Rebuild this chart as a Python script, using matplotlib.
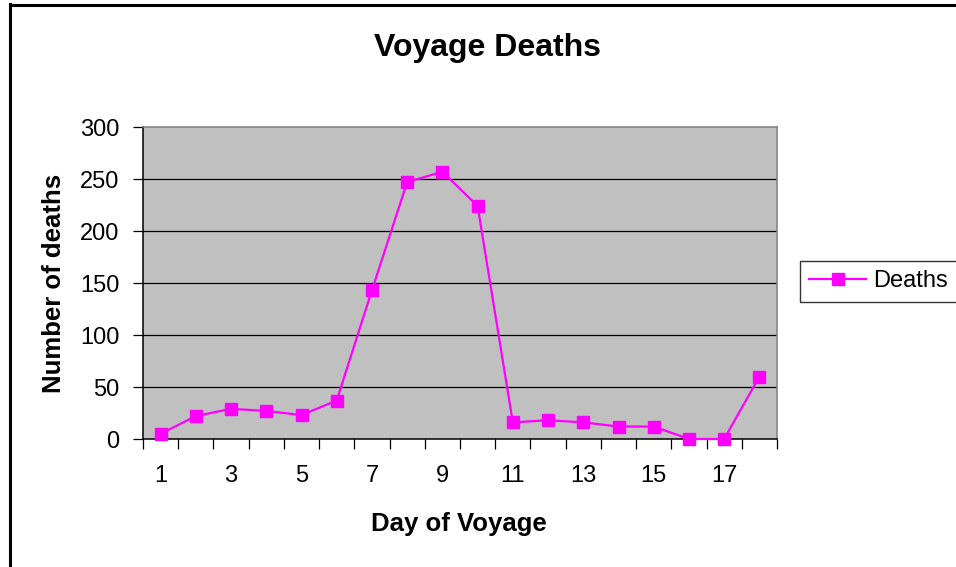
import matplotlib
matplotlib.use("Agg")
import matplotlib.pyplot as plt
from matplotlib.lines import Line2D

days = list(range(1, 19))
deaths = [5, 22, 29, 27, 23, 37, 143, 247, 257, 224, 16, 18, 16, 12, 12, 0, 0, 60]
xtick_labels = ["1", "3", "5", "7", "9", "11", "13", "15", "17"]
yticks = [0, 50, 100, 150, 200, 250, 300]

plt.rcParams['font.family'] = ['Liberation Sans', 'DejaVu Sans']

W, H = 956, 567
fig = plt.figure(figsize=(W / 100, H / 100), dpi=100)
fig.patch.set_facecolor('white')

L, R, T, B = 143, 777, 127, 439
ax = fig.add_axes([L / W, 1 - B / H, (R - L) / W, (B - T) / H])
ax.set_facecolor('#C0C0C0')

ax.plot(days, deaths, color='#FF00FF', linewidth=1.6, marker='s', markersize=8.5,
        markerfacecolor='#FF00FF', markeredgecolor='#FF00FF', label='Deaths',
        zorder=3, clip_on=False)

ax.set_xlim(0.5, 18.5)
ax.set_ylim(0, 300)
ax.set_yticks(yticks)
ax.set_yticklabels([str(v) for v in yticks])
for y in yticks[1:-1]:
    ax.axhline(y, color='black', linewidth=0.9, zorder=1)

# category axis: ticks between categories, labels on every other category
ax.set_xticks([d + 0.5 for d in [0] + days])
ax.set_xticklabels([])
ax.set_xticks([int(s) for s in xtick_labels], minor=True)
ax.set_xticklabels(xtick_labels, minor=True)
ax.tick_params(axis='x', which='major', direction='out', length=7, width=0.9, color='black')
ax.tick_params(axis='x', which='minor', length=0, pad=19, labelsize=17)
ax.tick_params(axis='y', direction='out', length=7, width=0.9, color='black', pad=10, labelsize=17)

for s in ['left', 'bottom']:
    ax.spines[s].set_color('black')
    ax.spines[s].set_linewidth(1.1)
for s in ['top', 'right']:
    ax.spines[s].set_color('#808080')
    ax.spines[s].set_linewidth(1.1)

fig.text(488 / W, 1 - 48 / H, 'Voyage Deaths', ha='center', va='center',
         fontsize=23, fontweight='bold')
fig.text(459 / W, 1 - 524 / H, 'Day of Voyage', ha='center', va='center',
         fontsize=18.5, fontweight='bold')
fig.text(54 / W, 1 - (T + B) / 2 / H, 'Number of deaths', ha='center', va='center',
         rotation=90, fontsize=18.5, fontweight='bold')

leg = fig.legend(handles=ax.get_lines(), labels=['Deaths'], loc='upper left',
                 bbox_to_anchor=(800 / W, 1 - 261 / H), borderaxespad=0,
                 frameon=True, fancybox=False, fontsize=17, handlelength=2.4,
                 handletextpad=0.3, borderpad=0.4)
leg.get_frame().set_edgecolor('black')
leg.get_frame().set_linewidth(1.0)

# outer chart border
fig.add_artist(Line2D([9.5 / W, 9.5 / W], [0, 1 - 4 / H], transform=fig.transFigure,
                      color='black', linewidth=2.2))
fig.add_artist(Line2D([9.5 / W, 1], [1 - 4.5 / H, 1 - 4.5 / H], transform=fig.transFigure,
                      color='black', linewidth=2.2))

fig.savefig('out.png', dpi=100)
